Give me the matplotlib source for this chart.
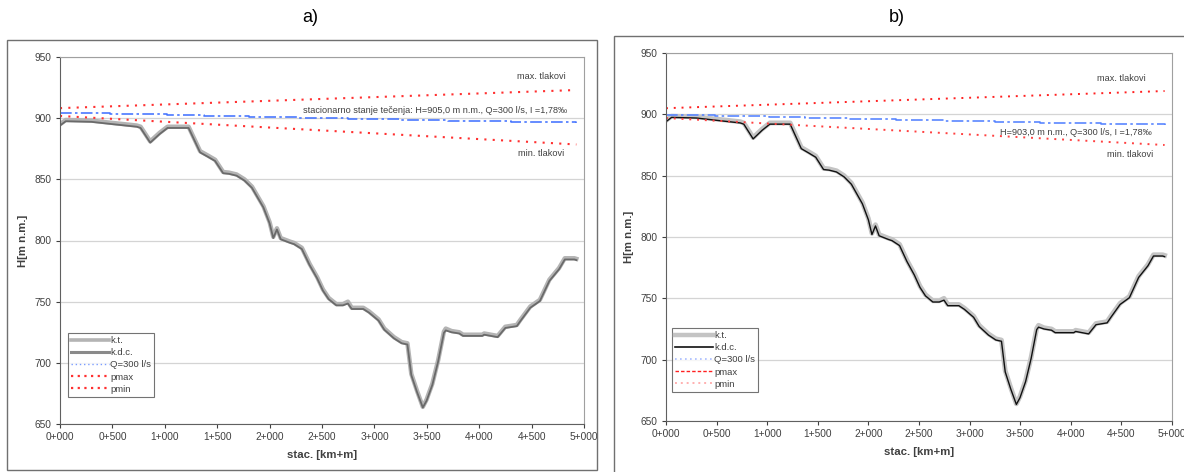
import matplotlib
matplotlib.use('Agg')
import matplotlib.pyplot as plt
from matplotlib.patches import Rectangle
from matplotlib.lines import Line2D
from matplotlib.ticker import FuncFormatter

plt.rcParams['font.family'] = ['Liberation Sans', 'DejaVu Sans']

# terrain profile (k.t.) and pipe axis (k.d.c.), stations in m
stations = [0, 55, 300, 513, 733, 769, 861, 950, 1026, 1227, 1337, 1410, 1480, 1557, 1612,
            1685, 1760, 1832, 1941, 2000, 2035, 2070, 2106, 2198, 2234, 2308, 2381, 2454,
            2509, 2564, 2637, 2700, 2747, 2784, 2894, 2949, 3040, 3095, 3187, 3260, 3315,
            3352, 3407, 3462, 3498, 3553, 3608, 3663, 3681, 3736, 3810, 3846, 4029, 4048,
            4176, 4249, 4359, 4396, 4487, 4579, 4670, 4762, 4817, 4908, 4927]
kt = [895, 898.5, 898, 896, 894, 893, 881, 888, 893, 893, 873, 869.5, 866, 856, 855.5,
      854, 850, 844, 828, 815, 803, 810, 802, 799, 798, 794, 781, 770,
      760, 753, 748, 748, 750, 745, 745, 742, 735.5, 728, 721, 717, 716,
      691, 677, 664, 670, 683, 702, 725.5, 728, 726, 725, 723, 723, 724,
      722, 729.5, 731, 735.5, 746, 751.5, 768, 777.5, 785.5, 785.5, 785]
kdc = [894, 897.5, 897, 895, 893, 892, 880, 887, 892, 892, 872, 868.5, 865, 855, 854.5,
       853, 849, 843, 827, 814, 802, 809, 801, 798, 797, 793, 780, 769,
       759, 752, 747, 747, 748.5, 744, 744, 741, 734.5, 727, 720, 716, 715,
       690, 676, 663.5, 669, 682, 701, 724.5, 726.5, 725, 724, 722, 722, 723,
       721, 728.5, 730, 734.5, 745, 750.5, 767, 776.5, 784.5, 784.5, 784]

# hydraulic grade line, Q = 300 l/s (a: H=905,0 ; b: H=903,0)
hgl_st = [0, 480, 1020, 1370, 1800, 2270, 2750, 3250, 3700, 4300, 4927]
hgl_a = [904.3, 903.2, 902.6, 901.7, 901.0, 900.2, 899.4, 898.7, 897.8, 896.8, 896.0]
hgl_b = [899.3, 898.6, 898.0, 897.0, 896.2, 895.4, 894.6, 893.8, 893.0, 892.2, 891.3]

# max / min pressure envelopes
env_st = [0, 4927]
pmax_a = [908.2, 923.0]
pmin_a = [901.8, 878.5]
pmax_b = [905.0, 919.0]
pmin_b = [897.0, 875.0]

legend_labels = ['k.t.', 'k.d.c.', 'Q=300 l/s', 'pmax', 'pmin']
xticks = [0, 500, 1000, 1500, 2000, 2500, 3000, 3500, 4000, 4500, 5000]
yticks = [650, 700, 750, 800, 850, 900, 950]

txt_col = '#404040'


def km_fmt(v, pos):
    v = int(round(v))
    return '%d+%03d' % (v // 1000, v % 1000)


def setup_axes(ax):
    ax.set_xlim(0, 5000)
    ax.set_ylim(650, 950)
    ax.set_xticks(xticks)
    ax.set_yticks(yticks)
    ax.xaxis.set_major_formatter(FuncFormatter(km_fmt))
    ax.tick_params(labelsize=7.3, colors=txt_col, length=3, width=0.8, pad=3)
    for s in ['top', 'right']:
        ax.spines[s].set_color('#a0a0a0')
    for s in ['left', 'bottom']:
        ax.spines[s].set_color('#606060')
    ax.grid(axis='y', color='#d4d4d4', lw=0.9)
    ax.set_axisbelow(True)
    ax.set_xlabel('stac. [km+m]', fontsize=8.2, fontweight='bold', color=txt_col, labelpad=5.5)
    ax.set_ylabel('H[m n.m.]', fontsize=8.2, fontweight='bold', color=txt_col, labelpad=4.5)


def style_legend(ax, handles, anchor):
    leg = ax.legend(handles, legend_labels, loc='lower left', bbox_to_anchor=anchor, fontsize=6.8,
                    frameon=True, fancybox=False, edgecolor='#505050', handlelength=4.0,
                    handletextpad=0.1, labelspacing=0.33, borderpad=0.35, borderaxespad=0)
    leg.get_frame().set_linewidth(0.8)
    for t in leg.get_texts():
        t.set_color(txt_col)


fig = plt.figure(figsize=(11.84, 4.72), dpi=100)

# outer frames around each chart
fig.patches.append(Rectangle((7 / 1184, 2 / 472), 590 / 1184, 430 / 472,
                             transform=fig.transFigure, fill=False, ec='#707070', lw=1))
fig.patches.append(Rectangle((614 / 1184, -5 / 472), 600 / 1184, 441 / 472,
                             transform=fig.transFigure, fill=False, ec='#707070', lw=1))

fig.text(310 / 1184, 1 - 18 / 472, 'a)', fontsize=13, ha='center', va='center')
fig.text(897 / 1184, 1 - 18 / 472, 'b)', fontsize=13, ha='center', va='center')

dashdot = (0, (7, 2, 1.5, 2))
dots = (0, (1, 3))
fine_dots = (0, (1, 2))

# ---- chart a)
ax1 = fig.add_axes([60 / 1184, 48 / 472, 524 / 1184, 367 / 472])
setup_axes(ax1)
ax1.plot(stations, kt, color='#b4b4b4', lw=3.2)
ax1.plot(stations, kdc, color='#6a6a6a', lw=1.3)
ax1.plot(hgl_st, hgl_a, color='#4a78ff', lw=1.2, ls=dashdot, drawstyle='steps-post')
ax1.plot(env_st, pmax_a, color='#ff3030', lw=1.5, ls=dots)
ax1.plot(env_st, pmin_a, color='#ff3030', lw=1.5, ls=dots)
ax1.text(4840, 906.5, 'stacionarno stanje tečenja: H=905,0 m n.m., Q=300 l/s, I =1,78‰',
         fontsize=6.6, color=txt_col, ha='right', va='center')
ax1.text(4830, 934, 'max. tlakovi', fontsize=6.6, color=txt_col, ha='right', va='center')
ax1.text(4810, 871, 'min. tlakovi', fontsize=6.6, color=txt_col, ha='right', va='center')
h1 = [Line2D([], [], color='#b4b4b4', lw=2.6),
      Line2D([], [], color='#8a8a8a', lw=2.2),
      Line2D([], [], color='#7a9cff', lw=1.0, ls=fine_dots),
      Line2D([], [], color='#ff3030', lw=1.6, ls=fine_dots),
      Line2D([], [], color='#ff3030', lw=1.6, ls=fine_dots)]
style_legend(ax1, h1, (8 / 524, 27 / 367))

# ---- chart b)
ax2 = fig.add_axes([666 / 1184, 51 / 472, 506 / 1184, 368 / 472])
setup_axes(ax2)
ax2.plot(stations, kt, color='#c4c4c4', lw=3.5)
ax2.plot(stations, kdc, color='#101010', lw=1.0)
ax2.plot(hgl_st, hgl_b, color='#5a86ff', lw=1.2, ls=dashdot, drawstyle='steps-post')
ax2.plot(env_st, pmax_b, color='#ff2020', lw=1.4, ls=dots)
ax2.plot(env_st, pmin_b, color='#ff4040', lw=1.4, ls=dots)
ax2.text(4800, 885.5, 'H=903,0 m n.m., Q=300 l/s, I =1,78‰',
         fontsize=6.6, color=txt_col, ha='right', va='center')
ax2.text(4745, 929.5, 'max. tlakovi', fontsize=6.6, color=txt_col, ha='right', va='center')
ax2.text(4815, 867, 'min. tlakovi', fontsize=6.6, color=txt_col, ha='right', va='center')
h2 = [Line2D([], [], color='#c4c4c4', lw=3.2),
      Line2D([], [], color='#101010', lw=1.2),
      Line2D([], [], color='#a8bcff', lw=1.2, ls=fine_dots),
      Line2D([], [], color='#ff2020', lw=1.0, ls=(0, (2.5, 1.5))),
      Line2D([], [], color='#ffb0b0', lw=1.4, ls=fine_dots)]
style_legend(ax2, h2, (6 / 506, 29 / 368))

fig.savefig('out.png', dpi=100)
